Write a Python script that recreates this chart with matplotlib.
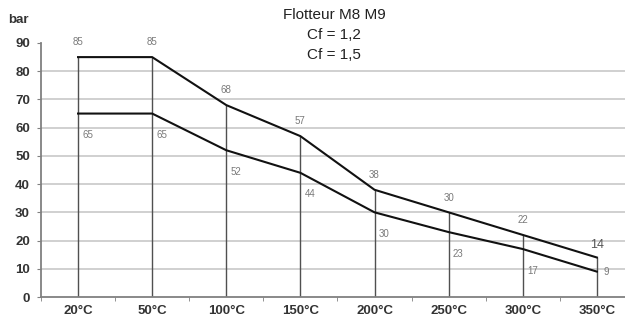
import matplotlib

matplotlib.use("Agg")
import matplotlib.pyplot as plt
import numpy as np

temps = ["20°C", "50°C", "100°C", "150°C", "200°C", "250°C", "300°C", "350°C"]
cf12 = [85, 85, 68, 57, 38, 30, 22, 14]
cf15 = [65, 65, 52, 44, 30, 23, 17, 9]
title_lines = ["Flotteur M8 M9", "Cf = 1,2", "Cf = 1,5"]

plt.rcParams["font.family"] = ["Liberation Sans", "DejaVu Sans"]

fig = plt.figure(figsize=(6.25, 3.21), dpi=100)
ax = fig.add_axes([41 / 625, 1 - 297 / 321, 584 / 625, 254 / 321])

x = np.arange(len(temps))
ax.set_xlim(-0.5, 7.38)
ax.set_ylim(0, 90)

# horizontal grid (no line at the top value)
for v in range(10, 90, 10):
    ax.axhline(v, color="#d0d0d0", lw=1.4, zorder=0)

# drop lines from the upper curve down to zero
ax.vlines(x, 0, cf12, color="#505050", lw=1.0, zorder=1)

ax.plot(x, cf12, color="#111111", lw=1.5, zorder=3)
ax.plot(x, cf15, color="#111111", lw=1.5, zorder=3)

for i, v in enumerate(cf12):
    if i == len(cf12) - 1:
        ax.annotate(str(v), (x[i], v), xytext=(0, 5), textcoords="offset points",
                    ha="center", va="bottom", fontsize=9, color="#555555")
    else:
        ax.annotate(str(v), (x[i], v), xytext=(0, 7), textcoords="offset points",
                    ha="center", va="bottom", fontsize=7, color="#7a7a7a")

for i, v in enumerate(cf15):
    if i == len(cf15) - 1:
        ax.annotate(str(v), (x[i], v), xytext=(5, 0), textcoords="offset points",
                    ha="left", va="center", fontsize=7, color="#7a7a7a")
    else:
        ax.annotate(str(v), (x[i], v), xytext=(3, -12), textcoords="offset points",
                    ha="left", va="top", fontsize=7, color="#7a7a7a")

ax.set_yticks(range(0, 100, 10))
ax.set_xticks(x)
ax.set_xticklabels(temps)
ax.set_xticks(np.arange(-0.5, 7.5, 1), minor=True)
ax.tick_params(axis="x", which="major", length=0, pad=6)
ax.tick_params(axis="x", which="minor", length=3, color="#808080", direction="out")
ax.tick_params(axis="y", length=3, color="#808080", pad=5)
for lab in ax.get_xticklabels() + ax.get_yticklabels():
    lab.set_fontweight("bold")
    lab.set_fontsize(9.5)
    lab.set_color("#333333")

for s in ["top", "right"]:
    ax.spines[s].set_visible(False)
ax.spines["left"].set_color("#808080")
ax.spines["bottom"].set_color("#808080")
ax.spines["left"].set_linewidth(1.3)
ax.spines["bottom"].set_linewidth(1.3)

fig.text(8 / 625, 1 - 20 / 321, "bar", fontsize=9.5, fontweight="bold",
         color="#333333", ha="left", va="center")
for k, t in enumerate(title_lines):
    fig.text(334 / 625, 1 - (15 + 20 * k) / 321, t, fontsize=11,
             color="#222222", ha="center", va="center")

fig.savefig("out.png", dpi=100)
